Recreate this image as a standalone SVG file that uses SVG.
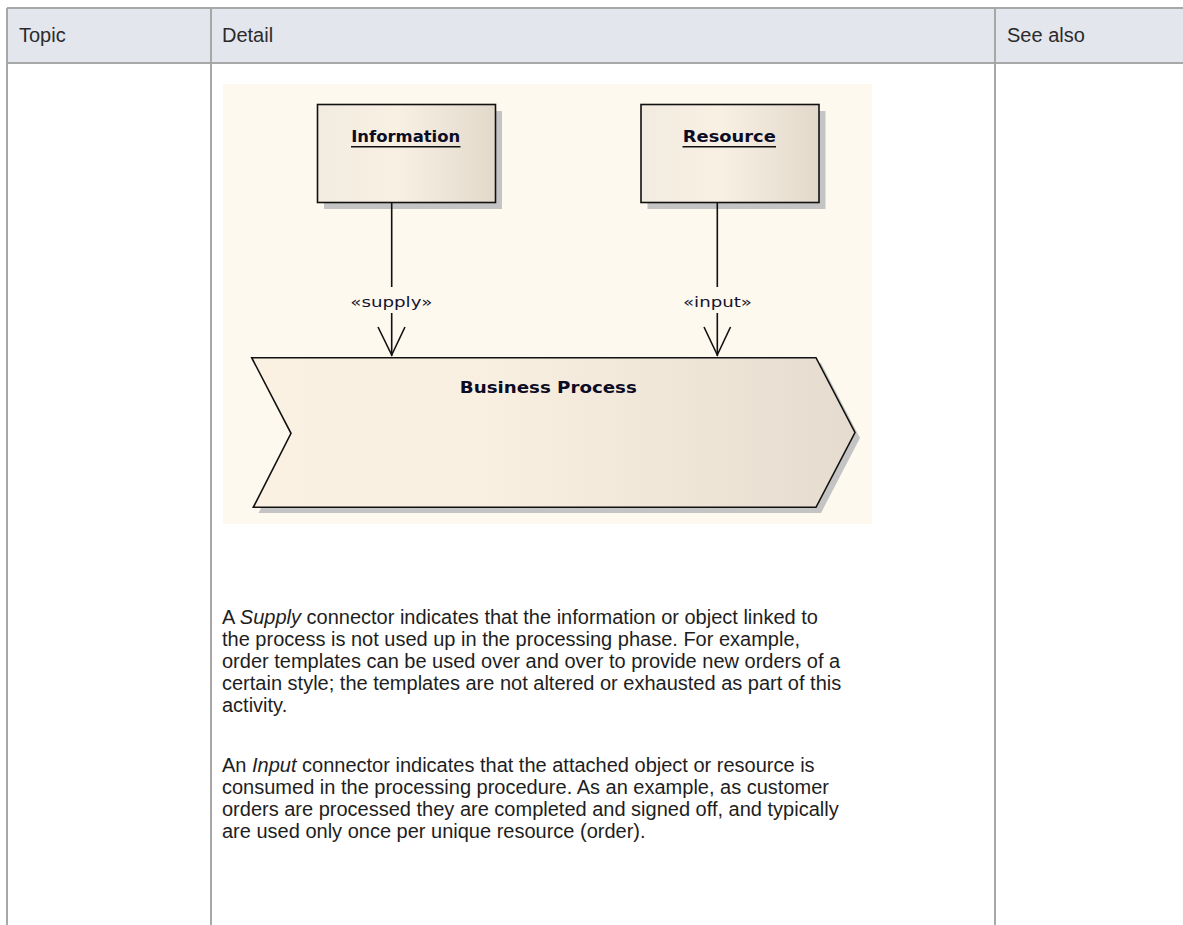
<svg xmlns="http://www.w3.org/2000/svg" width="1183" height="925" viewBox="0 0 1183 925">
<defs>
<style>
.hdr{font-family:"Liberation Sans",Arial,sans-serif;font-size:20px;fill:#2b2b2b}
.body{font-family:"Liberation Sans",Arial,sans-serif;font-size:20px;fill:#1e1e1e}
.grid{stroke:#a7a7a7;stroke-width:2;fill:none}
.nodeT{font-family:"DejaVu Sans","Liberation Sans",sans-serif;font-weight:bold;font-size:16px;fill:#0c0c24}
.lbl{font-family:"DejaVu Sans","Liberation Sans",sans-serif;font-size:14px;fill:#141430}
.edge{stroke:#111;stroke-width:1.6;fill:none}
.shape{stroke:#111;stroke-width:1.6}
.shadow{fill:#c4c4c4}
</style>
<linearGradient id="gBox" x1="0" y1="0" x2="1" y2="0">
<stop offset="0" stop-color="#f2ebdf"/>
<stop offset="0.45" stop-color="#f8f0e3"/>
<stop offset="1" stop-color="#e2d9cb"/>
</linearGradient>
<linearGradient id="gProc" x1="0" y1="0" x2="1" y2="0">
<stop offset="0" stop-color="#fbf1e3"/>
<stop offset="0.4" stop-color="#f9efe1"/>
<stop offset="1" stop-color="#e5dccf"/>
</linearGradient>
</defs>
<rect x="0" y="0" width="1183" height="925" fill="#ffffff"/>
<g id="table">
<rect x="7" y="8" width="1180" height="55" fill="#e4e6ee"/>
<line class="grid" x1="7" y1="8" x2="1183" y2="8"/>
<line class="grid" x1="7" y1="63" x2="1183" y2="63"/>
<line class="grid" x1="7" y1="8" x2="7" y2="925"/>
<line class="grid" x1="211" y1="8" x2="211" y2="925"/>
<line class="grid" x1="995" y1="8" x2="995" y2="925"/>
<text class="hdr" x="19" y="42">Topic</text>
<text class="hdr" x="222" y="42">Detail</text>
<text class="hdr" x="1007" y="42">See also</text>
</g>
<rect id="canvas" x="223" y="84" width="649" height="440" fill="#fef9ef"/>
<g id="node-information">
<rect class="shadow" x="324" y="111" width="178" height="98"/>
<rect class="shape" x="317.5" y="104.5" width="178" height="98" fill="url(#gBox)"/>
<text class="nodeT" x="405.7" y="141.5" text-anchor="middle" textLength="109" lengthAdjust="spacingAndGlyphs">Information</text>
<line x1="351" y1="146.8" x2="460.5" y2="146.8" stroke="#111" stroke-width="1.6"/>
</g>
<g id="node-resource">
<rect class="shadow" x="647.5" y="111" width="178" height="98"/>
<rect class="shape" x="641" y="104.5" width="178" height="98" fill="url(#gBox)"/>
<text class="nodeT" x="729.3" y="141.5" text-anchor="middle" textLength="93" lengthAdjust="spacingAndGlyphs">Resource</text>
<line x1="682.5" y1="146.8" x2="776" y2="146.8" stroke="#111" stroke-width="1.6"/>
</g>
<g id="node-process">
<polygon class="shadow" points="257,363 821,363 860,438 821,513 258.5,513 296,439"/>
<polygon class="shape" points="251.7,357.7 816,357.7 855,432.5 816,507.3 253.3,507.3 291,433.3" fill="url(#gProc)"/>
<text class="nodeT" x="548.3" y="393" text-anchor="middle" textLength="177" lengthAdjust="spacingAndGlyphs">Business Process</text>
</g>
<g id="connectors">
<g id="edge-supply">
<line class="edge" x1="391.7" y1="202.5" x2="391.7" y2="287"/>
<line class="edge" x1="391.7" y1="313" x2="391.7" y2="356"/>
<polyline class="edge" points="378,327 391.7,355 405,327"/>
<text class="lbl" x="391.3" y="306.5" text-anchor="middle" textLength="82" lengthAdjust="spacingAndGlyphs">«supply»</text>
</g>
<g id="edge-input">
<line class="edge" x1="717.3" y1="202.5" x2="717.3" y2="287"/>
<line class="edge" x1="717.3" y1="313" x2="717.3" y2="356"/>
<polyline class="edge" points="704,327 717.3,355 730.5,327"/>
<text class="lbl" x="717.5" y="306.5" text-anchor="middle" textLength="69" lengthAdjust="spacingAndGlyphs">«input»</text>
</g>
</g>
<g id="description">
<text class="body" x="222" y="624">A <tspan font-style="italic">Supply</tspan> connector indicates that the information or object linked to</text>
<text class="body" x="222" y="646">the process is not used up in the processing phase. For example,</text>
<text class="body" x="222" y="668">order templates can be used over and over to provide new orders of a</text>
<text class="body" x="222" y="690">certain style; the templates are not altered or exhausted as part of this</text>
<text class="body" x="222" y="712">activity.</text>
<text class="body" x="222" y="772">An <tspan font-style="italic">Input</tspan> connector indicates that the attached object or resource is</text>
<text class="body" x="222" y="794">consumed in the processing procedure. As an example, as customer</text>
<text class="body" x="222" y="816">orders are processed they are completed and signed off, and typically</text>
<text class="body" x="222" y="838">are used only once per unique resource (order).</text>
</g>
</svg>
